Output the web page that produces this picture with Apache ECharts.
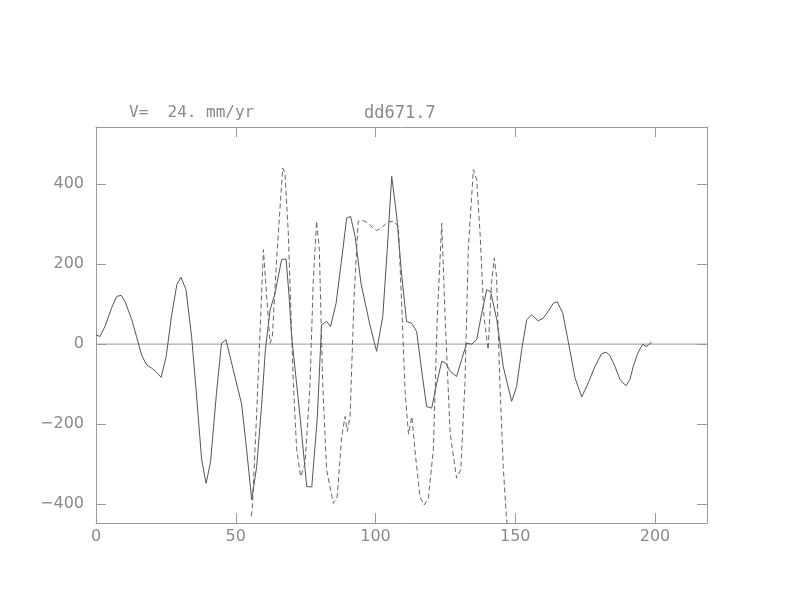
<!DOCTYPE html>
<html>
<head>
<meta charset="utf-8">
<script src="https://cdn.jsdelivr.net/npm/echarts@6/dist/echarts.min.js"></script>
<style>html,body{margin:0;padding:0;background:#fff}#c{width:792px;height:612px}</style>
</head>
<body>
<div id="c"></div>
<script>
// Solid curve: [x, value]
const solidX = [0,1.4,3.2,5.6,7.4,9,10.4,12.8,14.5,16.3,18.1,19.9,21.6,23.3,25.1,27,28.9,30.4,32.2,34.2,35.8,37.8,39.4,41,43.1,44.9,46.5,49.1,52.1,53.9,55.7,57.5,59.4,60.6,62.3,64,66.4,68,69,70,73,75.4,77.2,79.2,80.7,82.5,83.9,85.9,87.7,89.7,91.1,92.7,94.8,98,100.4,102.6,104.2,105.8,107.6,109.3,111.1,112.9,114.7,116.8,118.3,120.1,121.9,123.7,125.2,126.7,129,130.8,132.6,134.4,136.2,138,139.8,141.2,143.4,145.7,148.7,150.5,152.3,154.1,155.9,158.2,160,161.8,163.6,165,167,169,171.4,173.8,176.1,178.5,180.9,182.5,183.9,185.7,187.5,189.6,191,192.2,193.8,195.6,196.8,197.6,198.8];
const solidY = [23,19,44,91,119,122,106,61,19,-27,-52,-60,-70,-83,-31,69,148,167,136,19,-114,-289,-348,-293,-123,2,11,-64,-150,-264,-389,-306,-139,-14,86,125,211,213,128,19,-181,-356,-357,-181,48,57,44,102,202,315,319,269,152,48,-18,69,236,419,319,177,57,52,32,-81,-156,-160,-98,-43,-48,-68,-81,-39,2,0,11,77,136,131,61,-56,-143,-106,-14,61,73,58,65,82,102,106,77,5,-85,-132,-97,-56,-24,-20,-29,-56,-89,-104,-89,-56,-23,0,-6,-2,5];
// Dashed curve
const dashX = [55.5,55.9,57.5,59.9,61.1,62.3,63.1,64.6,66.8,67.6,68.8,70.6,71.8,73.2,74.8,76.6,77.7,78.9,79.9,81.1,82.5,84.9,86.3,87.9,89.1,89.9,90.9,92.3,93.8,95.6,97.4,99.2,100.4,102.2,104,106.4,108.2,109.3,110.6,111.8,113,114.4,115.9,117.4,118.9,120.7,122.1,123.7,124.9,126.7,129,130.5,132,133.2,135,136.2,137.4,138.8,140.3,141.5,142.5,143.3,144.5,145.7,146.9,147.8];
const dashY = [-430,-414,-170,236,115,2,19,211,440,428,278,-98,-264,-331,-298,-98,152,307,236,-98,-314,-398,-381,-231,-181,-218,-181,111,307,309,302,290,284,290,304,307,294,111,-120,-225,-181,-285,-381,-402,-385,-264,69,302,69,-223,-335,-314,-98,236,436,411,278,69,-14,152,215,169,-98,-306,-439,-480];
const xTicks = [0,50,100,150,200];
const yTicks = [-400,-200,0,200,400];
const titleLeft = 'V=  24. mm/yr';
const titleRight = 'dd671.7';

const X_MIN = 0, X_MAX = 218.6, Y_MIN = -447, Y_MAX = 542.5;
const frame = '#999';
const labelColor = '#8a8a8a';
const fmt = v => {
  const r = Math.round(v);
  return r < 0 ? '\u2212' + (-r) : String(r);
};

const chart = echarts.init(document.getElementById('c'), null, {renderer: 'canvas'});
function axis(type, pos, min, max, ticks, withLabels, margin) {
  return {
    type: 'value', position: pos, min: min, max: max,
    axisLine: {show: true, onZero: false, lineStyle: {color: frame, width: 1}},
    axisTick: {show: true, inside: true, length: 10, customValues: ticks, lineStyle: {color: frame, width: 1}},
    axisLabel: withLabels ? {show: true, margin: margin, customValues: ticks, formatter: fmt,
      color: labelColor, fontFamily: 'DejaVu Sans', fontSize: 16} : {show: false},
    splitLine: {show: false}
  };
}
chart.setOption({
  animation: false,
  backgroundColor: '#fff',
  title: [
    {text: titleLeft, left: 124, top: 100, textStyle: {fontFamily: 'DejaVu Sans Mono', fontSize: 16, fontWeight: 'normal', color: labelColor}},
    {text: titleRight, left: 359, top: 100, textStyle: {fontFamily: 'DejaVu Sans Mono', fontSize: 17, fontWeight: 'normal', color: labelColor}}
  ],
  grid: {left: 96, right: 85, top: 127, bottom: 89, containLabel: false},
  xAxis: [
    axis('x', 'bottom', X_MIN, X_MAX, xTicks, true, 6),
    axis('x', 'top', X_MIN, X_MAX, xTicks, false, 0)
  ],
  yAxis: [
    axis('y', 'left', Y_MIN, Y_MAX, yTicks, true, 12),
    axis('y', 'right', Y_MIN, Y_MAX, yTicks, false, 0)
  ],
  series: [
    {
      type: 'line', xAxisIndex: 0, yAxisIndex: 0,
      data: [[X_MIN, 0], [X_MAX, 0]],
      showSymbol: false, symbol: 'none', silent: true,
      lineStyle: {color: '#999', width: 1}
    },
    {
      type: 'line', xAxisIndex: 0, yAxisIndex: 0,
      data: solidX.map((x, i) => [x, solidY[i]]),
      showSymbol: false, symbol: 'none', clip: true,
      lineStyle: {color: '#555', width: 1}
    },
    {
      type: 'line', xAxisIndex: 0, yAxisIndex: 0,
      data: dashX.map((x, i) => [x, dashY[i]]),
      showSymbol: false, symbol: 'none', clip: true,
      lineStyle: {color: '#666', width: 1, type: [5, 3]}
    }
  ]
});
</script>
</body>
</html>
